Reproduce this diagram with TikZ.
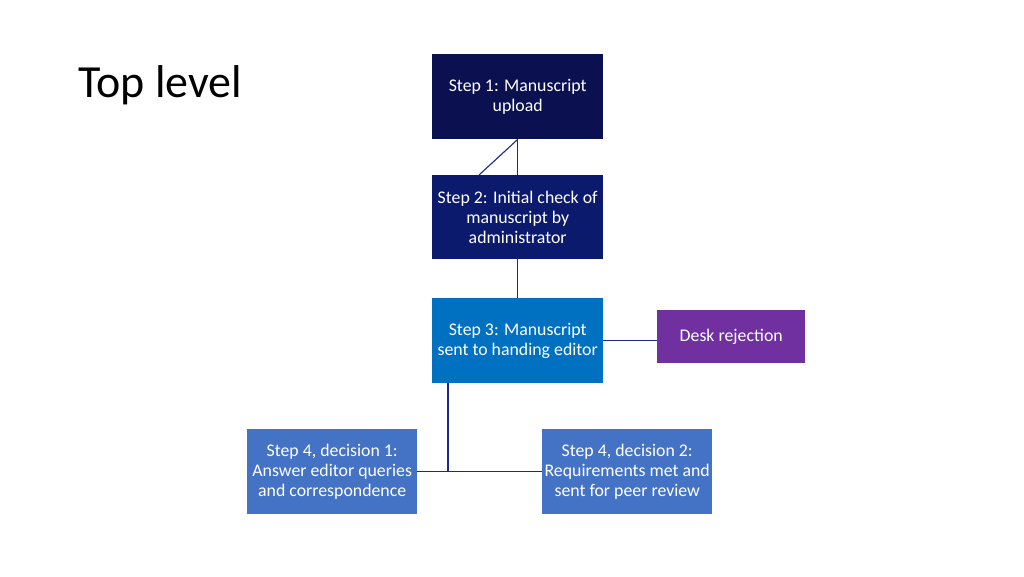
\documentclass[tikz,border=0pt]{standalone}
\usepackage{fontspec}
\setmainfont{Carlito}
\begin{document}
\begin{tikzpicture}[x=1pt,y=-1pt,
  box/.style={draw=none,anchor=north west,inner sep=0pt,text=white,align=center,
    font=\fontsize{17.8}{20}\selectfont},
  conn/.style={draw={rgb,255:red,28;green,40;blue,140},line width=1.1pt}]
\useasboundingbox[fill=white] (0,0) rectangle (1024,576);
\definecolor{c1}{RGB}{11,17,80}
\definecolor{c2}{RGB}{12,26,110}
\definecolor{c3}{RGB}{0,112,192}
\definecolor{c4}{RGB}{112,48,160}
\definecolor{c5}{RGB}{68,114,196}
\node[anchor=west,inner sep=0pt,font=\fontsize{46}{52}\selectfont] (title) at (78,85) {Top level};
\node[box,fill=c1,minimum width=171pt,minimum height=85pt] (s1) at (432,54) {Step 1: Manuscript\\upload};
\node[box,fill=c2,minimum width=171pt,minimum height=84pt] (s2) at (432,175) {Step 2: Initial check of\\manuscript by\\administrator};
\node[box,fill=c3,minimum width=171pt,minimum height=85pt] (s3) at (432,298) {Step 3: Manuscript\\sent to handing editor};
\node[box,fill=c4,minimum width=148pt,minimum height=53pt] (dr) at (657,310) {Desk rejection};
\node[box,fill=c5,minimum width=170pt,minimum height=85pt] (d1) at (247,429) {Step 4, decision 1:\\Answer editor queries\\and correspondence};
\node[box,fill=c5,minimum width=170pt,minimum height=85pt] (d2) at (542,429) {Step 4, decision 2:\\Requirements met and\\sent for peer review};
\coordinate (j) at (448,471);
\coordinate (s2d) at (479,175);
\draw[conn] (s1.south) -- (s2.north);
\draw[conn] (s1.south) -- (s2d);
\draw[conn] (s2.south) -- (s3.north);
\draw[conn] (s3.east) -- (dr.west |- s3.east);
\draw[conn] (s3.south west) ++(16,0) coordinate (s3b) -- (j);
\draw[conn] (d1.east) -- (d2.west);
\end{tikzpicture}
\end{document}
